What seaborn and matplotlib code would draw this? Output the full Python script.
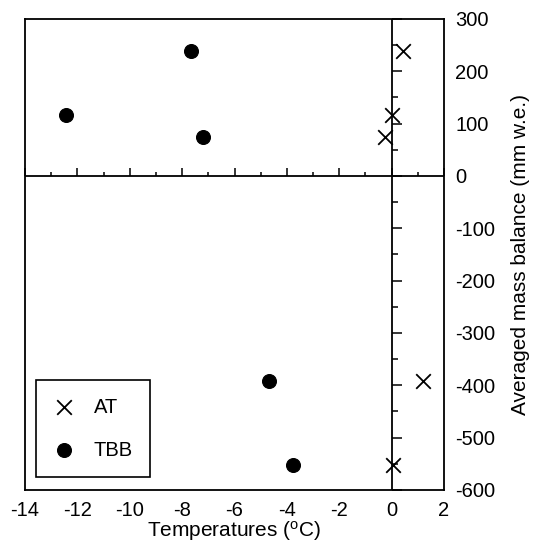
import matplotlib
matplotlib.use('Agg')
import matplotlib.pyplot as plt
from matplotlib.ticker import MultipleLocator
import seaborn as sns

# mass balance values (mm w.e.) and the two temperature series
mass_balance = [117, 238, 75, -392, -553]
at_temp = [0.02, 0.45, -0.25, 1.2, 0.05]
tbb_temp = [-12.45, -7.65, -7.2, -4.7, -3.75]

sns.set_style('white')
plt.rcParams['font.family'] = ['Liberation Sans', 'DejaVu Sans']
plt.rcParams['mathtext.fontset'] = 'custom'
plt.rcParams['mathtext.rm'] = 'Liberation Sans'
plt.rcParams['mathtext.it'] = 'Liberation Sans'
plt.rcParams['axes.unicode_minus'] = False
plt.rcParams['text.color'] = 'black'
plt.rcParams['axes.labelcolor'] = 'black'
plt.rcParams['xtick.color'] = 'black'
plt.rcParams['ytick.color'] = 'black'

fig = plt.figure(figsize=(5.33, 5.49), dpi=100)
ax = fig.add_axes([0.047, 0.1075, 0.786, 0.858])

# AT as crosses, TBB as filled circles
sns.scatterplot(x=at_temp, y=mass_balance, marker='x', color='black', s=110,
                linewidth=1.3, ax=ax, label='AT', zorder=3)
sns.scatterplot(x=tbb_temp, y=mass_balance, marker='o', color='black', s=100,
                edgecolor='black', ax=ax, label='TBB', zorder=3)

ax.set_xlim(-14, 2)
ax.set_ylim(-600, 300)
ax.xaxis.set_major_locator(MultipleLocator(2))
ax.yaxis.set_major_locator(MultipleLocator(100))
ax.yaxis.tick_right()
ax.yaxis.set_label_position('right')
ax.tick_params(axis='x', length=0, pad=8, labelsize=14.5)
ax.tick_params(axis='y', length=0, pad=8, labelsize=14.5)
for sp in ax.spines.values():
    sp.set_color('black')
    sp.set_linewidth(1.3)

# zero lines
ax.axhline(0, color='black', lw=1.3, zorder=2)
ax.axvline(0, color='black', lw=1.3, zorder=2)

# tick marks sit on the zero lines
secx = ax.secondary_xaxis(0, transform=ax.transData)
secx.set_alignment('top')
secx.xaxis.set_major_locator(MultipleLocator(2))
secx.xaxis.set_minor_locator(MultipleLocator(1))
secx.tick_params(axis='x', which='both', direction='out', labeltop=False,
                 labelbottom=False, color='black', width=1.1)
secx.tick_params(axis='x', which='major', length=6)
secx.tick_params(axis='x', which='minor', length=3)
for sp in secx.spines.values():
    sp.set_visible(False)

secy = ax.secondary_yaxis(0, transform=ax.transData)
secy.set_alignment('right')
secy.yaxis.set_major_locator(MultipleLocator(100))
secy.yaxis.set_minor_locator(MultipleLocator(50))
secy.tick_params(axis='y', which='both', direction='out', labelright=False,
                 labelleft=False, color='black', width=1.1)
secy.tick_params(axis='y', which='major', length=7)
secy.tick_params(axis='y', which='minor', length=4)
for sp in secy.spines.values():
    sp.set_visible(False)

ax.set_xlabel(r'Temperatures ($^{\mathrm{o}}$C)', fontsize=15, labelpad=-1)
ax.set_ylabel('Averaged mass balance (mm w.e.)', fontsize=15, labelpad=11)

leg = ax.legend(loc='lower left', bbox_to_anchor=(0.027, 0.028), borderaxespad=0,
                fontsize=14.5, frameon=True, fancybox=False, edgecolor='black',
                framealpha=1, handlelength=1.0, handletextpad=1.0,
                labelspacing=1.2, borderpad=0.85)
leg.get_frame().set_linewidth(1.2)

fig.savefig('out.png', dpi=100)
